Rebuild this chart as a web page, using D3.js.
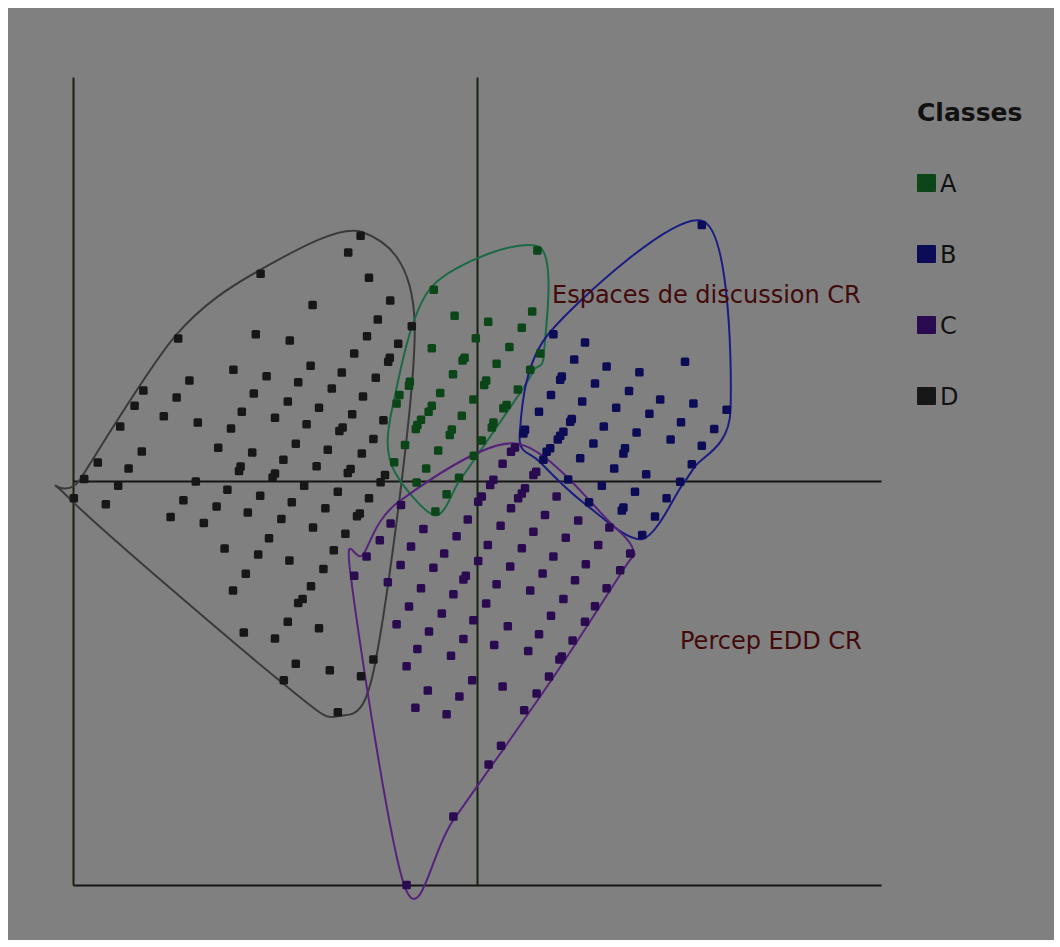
<!DOCTYPE html>
<html>
<head>
<meta charset="utf-8">
<script src="https://cdn.jsdelivr.net/npm/d3@7/dist/d3.min.js"></script>
<style>
  html, body { margin: 0; padding: 0; background: #ffffff; }
  svg { display: block; }
</style>
</head>
<body>
<script>
// Factor map: individuals on the two axes, grouped by class
const classNames = ["A", "B", "C", "D"];
const classColors = ["#0b4518", "#0c0c56", "#2a0b50", "#171717"];
const hullColors = ["#1b6a46", "#1b1b84", "#55227c", "#3a3a3a"];

const axisLabelX = "Espaces de discussion CR";
const axisLabelY = "Percep EDD CR";
const legendTitle = "Classes";

const classA = [
  [0.151,0.576],[-0.108,0.478],[-0.056,0.413],[0.138,0.424],[0.028,0.398],[0.112,0.383],
  [-0.003,0.357],[-0.113,0.332],[0.081,0.335],[-0.031,0.308],[-0.036,0.301],[0.158,0.319],
  [0.049,0.293],[-0.060,0.267],[0.133,0.278],[0.023,0.251],[0.018,0.240],[-0.168,0.248],
  [-0.170,0.238],[-0.092,0.220],[0.102,0.229],[-0.194,0.215],[-0.201,0.194],[-0.009,0.204],
  [-0.113,0.188],[-0.121,0.173],[0.074,0.190],[0.066,0.182],[-0.038,0.163],[-0.140,0.153],
  [-0.149,0.140],[-0.153,0.130],[-0.063,0.129],[-0.068,0.115],[0.041,0.146],[0.037,0.134],
  [-0.180,0.090],[0.012,0.101],[-0.097,0.076],[-0.008,0.063],[-0.207,0.047],[-0.127,0.031],
  [-0.045,0.008],[-0.151,-0.004],[-0.076,-0.033],[-0.104,-0.076]
];

const classB = [
  [0.562,0.640],[0.191,0.367],[0.270,0.346],[0.243,0.304],[0.520,0.298],[0.324,0.286],
  [0.406,0.272],[0.212,0.261],[0.208,0.253],[0.295,0.244],[0.380,0.225],[0.185,0.215],
  [0.458,0.204],[0.263,0.199],[0.348,0.183],[0.541,0.194],[0.624,0.178],[0.155,0.173],
  [0.431,0.168],[0.237,0.155],[0.233,0.148],[0.317,0.136],[0.510,0.147],[0.120,0.128],
  [0.116,0.119],[0.216,0.123],[0.208,0.113],[0.202,0.104],[0.399,0.121],[0.593,0.130],
  [0.291,0.094],[0.484,0.104],[0.183,0.082],[0.174,0.073],[0.370,0.082],[0.366,0.069],
  [0.562,0.088],[0.258,0.057],[0.166,0.053],[0.537,0.042],[0.343,0.031],[0.423,0.017],
  [0.228,0.004],[0.508,-0.002],[0.312,-0.012],[0.395,-0.027],[0.474,-0.043],[0.280,-0.053],
  [0.366,-0.066],[0.362,-0.074],[0.445,-0.089],[0.413,-0.135]
];

const classC = [
  [0.095,0.084],[0.085,0.073],[0.064,0.043],[0.041,0.003],[0.033,-0.010],[0.012,-0.039],
  [0.003,-0.052],[0.148,0.023],[0.141,0.015],[0.120,-0.018],[0.112,-0.031],[0.103,-0.043],
  [0.085,-0.068],[0.199,-0.039],[-0.190,-0.060],[-0.023,-0.096],[0.170,-0.085],[0.253,-0.099],
  [0.059,-0.112],[-0.216,-0.106],[-0.134,-0.120],[0.141,-0.127],[0.331,-0.116],[-0.051,-0.138],
  [-0.243,-0.148],[0.222,-0.142],[0.027,-0.160],[-0.165,-0.164],[0.112,-0.168],[0.303,-0.160],
  [-0.082,-0.181],[-0.276,-0.189],[0.191,-0.189],[0.383,-0.181],[0.003,-0.200],[0.272,-0.208],
  [-0.191,-0.210],[-0.109,-0.217],[0.083,-0.214],[0.358,-0.223],[-0.307,-0.237],[-0.028,-0.237],
  [-0.034,-0.246],[0.164,-0.231],[0.245,-0.248],[-0.223,-0.253],[0.049,-0.258],[-0.140,-0.268],
  [0.324,-0.268],[0.133,-0.274],[-0.059,-0.283],[0.216,-0.295],[0.023,-0.306],[-0.170,-0.314],
  [0.295,-0.313],[-0.088,-0.331],[0.185,-0.337],[-0.009,-0.348],[-0.201,-0.358],[0.077,-0.363],
  [0.270,-0.352],[-0.120,-0.376],[0.155,-0.383],[-0.034,-0.395],[0.239,-0.399],[0.043,-0.410],
  [-0.149,-0.420],[0.128,-0.425],[0.212,-0.439],[0.206,-0.446],[-0.065,-0.437],[-0.176,-0.463],
  [0.180,-0.489],[-0.012,-0.498],[-0.123,-0.524],[0.064,-0.514],[-0.044,-0.539],[0.149,-0.531],
  [-0.154,-0.567],[-0.076,-0.583],[0.118,-0.573],[0.060,-0.662],[0.029,-0.709],[-0.059,-0.839],
  [-0.176,-1.010]
];

const classD = [
  [-0.291,0.613],[-0.322,0.571],[-0.270,0.508],[-0.217,0.451],[-0.248,0.404],[-0.163,0.387],
  [-0.275,0.362],[-0.197,0.343],[-0.307,0.319],[-0.218,0.308],[-0.222,0.298],[-0.338,0.271],
  [-0.253,0.258],[-0.363,0.231],[-0.285,0.211],[-0.312,0.167],[-0.234,0.152],[-0.336,0.134],
  [-0.344,0.125],[-0.259,0.105],[-0.288,0.069],
  [-0.541,0.518],[-0.411,0.440],[-0.553,0.367],[-0.468,0.351],[-0.747,0.356],[-0.609,0.278],
  [-0.416,0.288],[-0.526,0.262],[-0.719,0.251],[-0.447,0.247],[-0.834,0.226],[-0.558,0.219],
  [-0.751,0.209],[-0.473,0.199],[-0.856,0.188],[-0.588,0.173],[-0.395,0.183],[-0.783,0.162],
  [-0.505,0.158],[-0.698,0.146],[-0.892,0.136],[-0.615,0.131],[-0.426,0.142],
  [-0.838,0.074],[-0.647,0.083],[-0.562,0.071],[-0.453,0.093],[-0.373,0.078],
  [-0.948,0.046],[-0.871,0.031],[-0.591,0.036],[-0.595,0.025],[-0.484,0.053],[-0.401,0.037],
  [-0.505,0.019],[-0.511,0.009],[-0.316,0.030],[-0.323,0.020],[-0.982,0.005],[-0.897,-0.012],
  [-0.703,-0.001],[-0.432,-0.012],[-1.008,-0.043],[-0.624,-0.022],[-0.542,-0.037],[-0.348,-0.027],
  [-0.928,-0.058],[-0.734,-0.048],[-0.651,-0.064],[-0.463,-0.053],[-0.379,-0.068],[-0.766,-0.090],
  [-0.683,-0.105],[-0.573,-0.079],[-0.489,-0.095],[-0.410,-0.116],[-0.329,-0.132],[-0.520,-0.143],
  [-0.631,-0.169],[-0.547,-0.184],[-0.469,-0.199],[-0.358,-0.173],[-0.578,-0.232],[-0.384,-0.220],
  [-0.610,-0.274],[-0.415,-0.263],[-0.436,-0.295],[-0.447,-0.305],[-0.473,-0.352],[-0.395,-0.368],
  [-0.583,-0.379],[-0.505,-0.394],[-0.453,-0.457],[-0.368,-0.473],[-0.483,-0.498],[-0.348,-0.578],
  [-0.230,0.015],[-0.241,-0.003],[-0.270,-0.043],[-0.293,-0.081],[-0.300,-0.088],
  [-0.259,-0.446],[-0.290,-0.488]
];

const classData = [classA, classB, classC, classD];

const W = 1060, H = 947;
const svg = d3.select("body").append("svg").attr("width", W).attr("height", H);

svg.append("rect").attr("x", 8).attr("y", 8).attr("width", W - 14).attr("height", H - 15)
  .attr("fill", "#808080");

const x = d3.scaleLinear().domain([-1.01, 1.01]).range([73, 881]);
const y = d3.scaleLinear().domain([-1.01, 1.01]).range([885, 77]);

const font = "'DejaVu Sans', Verdana, sans-serif";

// Frame and zero lines, drawn as tick-less axes
function plainAxis(g, color) {
  g.select(".domain").attr("stroke", color).attr("stroke-width", 2);
}
svg.append("g").attr("transform", `translate(0,${y(-1.01)})`)
  .call(d3.axisBottom(x).tickValues([]).tickSizeOuter(0)).call(plainAxis, "#151515");
svg.append("g").attr("transform", `translate(0,${y(0)})`)
  .call(d3.axisBottom(x).tickValues([]).tickSizeOuter(0)).call(plainAxis, "#151515");
svg.append("g").attr("transform", `translate(${x(-1.01)},0)`)
  .call(d3.axisLeft(y).tickValues([]).tickSizeOuter(0)).call(plainAxis, "#18220e");
svg.append("g").attr("transform", `translate(${x(0)},0)`)
  .call(d3.axisLeft(y).tickValues([]).tickSizeOuter(0)).call(plainAxis, "#18220e");

// Smoothed envelope around each class: convex hull, near-duplicate corners merged,
// pushed slightly outward, then drawn as a closed cardinal spline
const hullLine = d3.line().curve(d3.curveCardinalClosed.tension(0.1));
function envelope(points, pad, minGap) {
  const px = points.map(d => [x(d[0]), y(d[1])]);
  const hull = d3.polygonHull(px);
  const kept = [];
  hull.forEach(p => {
    const last = kept[kept.length - 1];
    if (!last || Math.hypot(p[0] - last[0], p[1] - last[1]) >= minGap) kept.push(p);
  });
  if (kept.length > 3 && Math.hypot(kept[0][0] - kept[kept.length - 1][0],
      kept[0][1] - kept[kept.length - 1][1]) < minGap) kept.pop();
  const c = d3.polygonCentroid(kept);
  const grown = kept.map(([hx, hy]) => {
    const dx = hx - c[0], dy = hy - c[1];
    const len = Math.hypot(dx, dy) || 1;
    return [hx + dx / len * pad, hy + dy / len * pad];
  });
  return hullLine(grown);
}

const drawOrder = [3, 0, 1, 2];
svg.append("g").selectAll("path")
  .data(drawOrder)
  .join("path")
  .attr("d", i => envelope(classData[i], 4, 14))
  .attr("fill", "none")
  .attr("stroke", i => hullColors[i])
  .attr("stroke-width", 2)
  .attr("stroke-linejoin", "round");

// Individuals
const size = 8.5;
drawOrder.forEach(i => {
  svg.append("g").selectAll("rect")
    .data(classData[i])
    .join("rect")
    .attr("x", d => x(d[0]) - size / 2)
    .attr("y", d => y(d[1]) - size / 2)
    .attr("width", size)
    .attr("height", size)
    .attr("rx", 1.5)
    .attr("fill", classColors[i]);
});

// Variable labels
svg.append("text").attr("x", 552).attr("y", 303)
  .attr("font-family", font).attr("font-size", 24).attr("fill", "#420a0a")
  .text(axisLabelX);
svg.append("text").attr("x", 680).attr("y", 649)
  .attr("font-family", font).attr("font-size", 24).attr("fill", "#420a0a")
  .text(axisLabelY);

// Legend
const legend = svg.append("g").attr("transform", "translate(917,0)");
legend.append("text").attr("x", 0).attr("y", 121)
  .attr("font-family", font).attr("font-size", 25).attr("font-weight", "bold")
  .attr("fill", "#111").text(legendTitle);
const item = legend.selectAll("g.item").data(classNames).join("g")
  .attr("class", "item")
  .attr("transform", (d, i) => `translate(0,${174 + i * 71})`);
item.append("rect").attr("width", 19).attr("height", 18).attr("rx", 1)
  .attr("fill", (d, i) => classColors[i]);
item.append("text").attr("x", 23).attr("y", 18)
  .attr("font-family", font).attr("font-size", 24).attr("fill", "#111")
  .text(d => d);
</script>
</body>
</html>
